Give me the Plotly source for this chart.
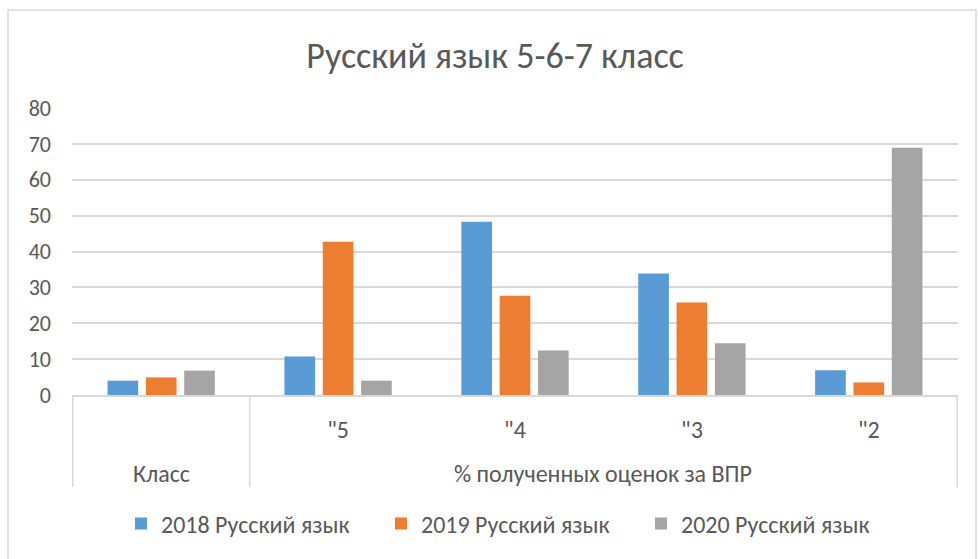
import plotly.graph_objects as go

grades = [" ", "\"5", "\"4", "\"3", "\"2"]
group_labels = ["Класс", "% полученных оценок за ВПР"]
group_members = [[0], [1, 2, 3, 4]]  # category indices belonging to each group

series_names = ["2018 Русский язык", "2019 Русский язык", "2020 Русский язык"]
values_2018 = [4, 10.7, 48.3, 33.9, 6.9]
values_2019 = [4.9, 42.7, 27.7, 25.8, 3.5]
values_2020 = [6.8, 4.0, 12.4, 14.4, 68.9]
colors = ["#5b9bd5", "#ed7d31", "#a5a5a5"]

FONT = "Carlito, Calibri, Roboto, sans-serif"
TXT = "#595959"
GRID = "#d9d9d9"
PLOT_H = 559 - 108 - 164

fig = go.Figure()
for name, vals, c in zip(series_names, [values_2018, values_2019, values_2020], colors):
    fig.add_trace(go.Bar(x=grades, y=vals, name=name,
                         marker=dict(color=c, line=dict(width=0))))

annotations = []
shapes = []
# group labels and dividers for the two-level category axis
div_y = -(487 - 395) / PLOT_H
for label, members in zip(group_labels, group_members):
    annotations.append(dict(text=label, xref="x", yref="paper",
                            x=(members[0] + members[-1]) / 2, y=-(473 - 395) / PLOT_H,
                            xanchor="center", yanchor="middle", showarrow=False,
                            font=dict(family=FONT, size=24, color=TXT)))
boundaries = [group_members[0][0] - 0.5] + [m[-1] + 0.5 for m in group_members]
for b in boundaries:
    shapes.append(dict(type="line", xref="x", yref="paper", x0=b, x1=b, y0=0, y1=div_y,
                       line=dict(color=GRID, width=1.5)))
# chart area border
shapes.append(dict(type="rect", xref="paper", yref="paper",
                   x0=(8 - 72) / 886, x1=(976 - 72) / 886,
                   y0=-1.0, y1=(395 - 10) / PLOT_H,
                   line=dict(color=GRID, width=1.5)))

fig.update_layout(
    width=978, height=559,
    paper_bgcolor="white", plot_bgcolor="white",
    font=dict(family=FONT, color=TXT, size=22),
    title=dict(text="Русский язык 5-6-7 класс", x=495 / 978, xanchor="center",
               y=1 - 55 / 559, yanchor="middle",
               font=dict(family=FONT, size=36, color=TXT)),
    margin=dict(l=72, r=20, t=108, b=164),
    barmode="group", bargap=0.35, bargroupgap=0.2,
    showlegend=True,
    legend=dict(orientation="h", x=(121 - 72) / 886, xanchor="left",
                y=-(524 - 395) / PLOT_H, yanchor="middle",
                entrywidth=215, entrywidthmode="pixels",
                font=dict(size=24, color=TXT), traceorder="normal"),
    xaxis=dict(type="category", showline=True, linecolor=GRID, linewidth=1.5,
               tickfont=dict(size=24, color=TXT), ticks="", ticklabelstandoff=12,
               showgrid=False),
    yaxis=dict(range=[0, 80], dtick=10, showgrid=True, gridcolor=GRID, gridwidth=1.5,
               zeroline=False, showline=False, tickfont=dict(size=22, color=TXT),
               ticklabelstandoff=20),
    annotations=annotations,
    shapes=shapes,
)
fig.write_html("out.html", config={"displayModeBar": False},
               post_script="document.body.style.margin='0';document.body.style.overflow='hidden';")
